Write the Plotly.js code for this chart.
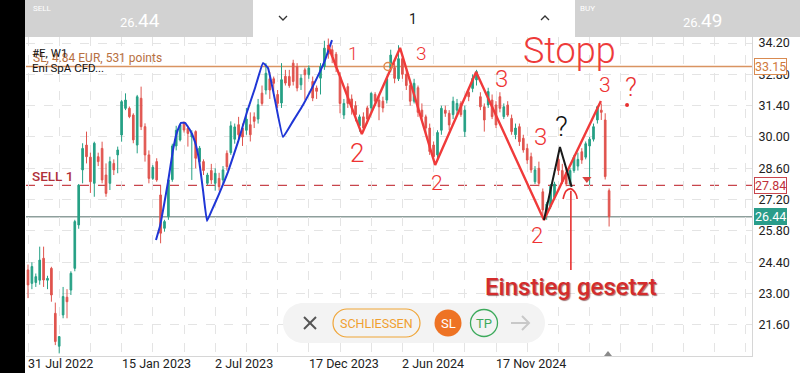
<!DOCTYPE html>
<html><head><meta charset="utf-8">
<script src="https://cdn.plot.ly/plotly-3.0.1.min.js"></script>
<style>html,body{margin:0;padding:0;background:#fff;overflow:hidden}#chart{width:800px;height:373px}</style>
</head><body><div id="chart"></div>
<script>
// ---------- DATA ----------
const startDate = [2022, 6, 31];          // first weekly bar: 31 Jul 2022
const openP = [24.06,23.46,23.50,23.60,24.58,23.60,24.13,22.12,20.65,22.05,
 22.84,23.16,24.13,26.07,28.53,29.64,29.10,27.93,29.12,29.49,
 28.30,27.93,28.82,29.20,30.09,31.28,31.28,30.98,29.64,31.73,
 30.46,29.20,28.15,28.90,27.41,25.92,26.44,28.10,29.60,29.87,
 30.61,30.39,30.00,30.24,28.90,28.90,27.93,28.50,27.93,28.15,
 28.08,29.27,29.30,29.90,30.55,30.40,30.30,30.55,30.90,30.80,
 31.96,32.10,32.60,32.60,31.90,31.52,32.71,32.70,33.30,33.15,
 32.33,33.00,32.78,32.48,32.19,32.63,33.15,34.00,33.90,33.70,
 32.70,30.98,32.25,31.70,31.40,30.50,30.90,31.30,31.30,31.90,
 31.65,31.60,31.65,33.07,33.10,32.60,33.50,32.80,32.30,31.60,
 32.20,31.20,30.90,30.40,29.64,29.20,30.30,31.20,31.06,31.00,
 31.20,31.50,30.24,32.00,32.17,32.55,31.80,31.35,31.43,31.65,
 31.43,31.80,30.91,31.43,30.83,30.10,30.46,29.94,29.49,29.12,
 28.00,28.60,27.55,26.60,26.90,27.30,29.00,28.50,28.40,27.90,
 28.50,28.70,29.34,29.10,29.60,29.90,30.76,31.20,30.76,27.60];
const highP = [24.30,24.40,23.90,25.10,25.10,23.80,24.20,22.60,21.10,23.30,
 23.20,24.00,26.30,27.90,29.72,30.24,29.30,29.79,29.30,29.79,
 28.82,29.12,29.00,29.57,31.65,31.95,31.36,31.06,31.88,32.25,
 30.61,29.40,28.75,29.05,27.85,26.30,28.10,29.70,30.50,30.60,
 30.70,30.50,30.30,30.30,29.60,29.00,28.40,28.80,28.60,28.40,
 28.70,29.40,30.70,30.60,30.90,30.60,31.30,31.10,31.10,31.70,
 32.30,33.30,32.90,32.70,32.10,33.30,33.00,33.00,33.45,33.30,
 32.80,33.10,33.20,32.70,32.30,33.30,34.30,34.40,34.10,33.80,
 32.90,31.70,32.40,31.90,31.60,31.00,31.10,31.40,32.00,32.00,
 31.80,31.80,32.70,33.90,33.30,34.10,33.60,33.00,32.50,32.60,
 32.30,31.50,31.00,30.60,29.80,30.30,31.40,31.40,31.20,31.80,
 31.70,31.60,31.40,32.20,32.80,33.00,32.00,31.50,32.20,31.90,
 31.60,32.00,31.50,31.60,31.00,30.60,30.60,30.10,29.70,29.30,
 28.70,28.90,27.70,27.10,27.90,28.00,29.20,28.80,28.60,28.60,
 29.20,29.30,29.50,29.80,30.00,30.60,31.40,31.50,31.06,27.70];
const lowP = [22.80,23.20,23.30,23.40,23.30,23.20,22.64,20.70,20.33,21.90,
 21.90,22.94,24.00,25.90,27.93,28.82,27.50,27.33,28.70,27.93,
 27.33,27.63,28.30,28.38,29.79,31.20,30.84,29.72,29.27,30.31,
 28.90,27.93,28.08,28.00,25.25,25.77,26.30,28.00,29.40,29.80,
 30.20,29.57,28.08,28.60,28.70,28.30,27.85,27.90,27.60,27.60,
 27.90,28.50,29.20,29.70,29.90,29.60,30.10,29.80,30.40,30.60,
 31.40,31.90,31.70,32.00,31.30,31.30,32.30,32.20,32.30,32.04,
 32.10,31.66,32.60,31.60,31.70,31.90,33.00,33.50,33.30,32.90,
 31.06,30.80,31.30,31.00,30.70,30.24,30.30,30.60,31.10,31.40,
 30.75,31.10,31.50,32.90,32.40,32.50,32.60,32.10,31.40,31.50,
 30.90,30.70,30.10,29.20,28.90,29.00,30.10,30.90,30.30,30.80,
 31.00,30.90,30.00,31.60,32.00,32.30,31.20,30.24,31.30,30.80,
 30.40,31.10,30.80,30.90,30.10,29.90,29.60,29.30,28.80,28.40,
 27.90,27.80,26.44,26.30,26.80,27.20,28.30,27.90,27.80,27.80,
 28.40,28.50,28.80,29.00,27.85,29.80,30.60,30.76,28.10,26.00];
const closeP = [23.39,24.21,23.76,24.50,23.61,23.68,22.94,20.86,21.08,22.87,
 22.64,23.91,26.22,27.85,29.49,29.12,28.00,29.72,28.90,28.08,
 27.48,28.90,28.53,29.42,31.58,31.65,30.91,29.87,31.80,30.46,
 29.20,28.15,28.65,28.08,25.70,26.22,28.08,29.60,30.30,30.54,
 30.31,30.16,30.16,29.05,29.50,28.50,28.30,28.08,28.38,27.78,
 28.53,28.67,30.50,30.45,30.10,30.00,30.80,30.10,30.70,31.44,
 31.50,32.85,32.10,32.40,31.50,32.56,32.41,32.30,32.48,32.19,
 32.63,32.78,33.08,31.74,32.04,33.15,33.97,33.70,33.60,33.10,
 31.50,31.50,31.50,31.35,31.00,30.90,30.40,30.80,31.95,31.60,
 31.35,31.30,32.60,33.66,32.62,33.50,32.80,32.30,31.60,32.40,
 31.10,30.90,30.40,29.35,29.12,30.20,31.28,31.06,30.54,31.60,
 31.50,31.00,31.20,31.80,32.62,32.92,31.35,30.76,32.03,30.91,
 30.54,31.28,31.35,30.98,30.24,30.40,29.79,29.42,28.97,28.53,
 28.53,27.93,26.74,27.00,27.80,27.90,28.50,28.00,27.90,28.50,
 29.10,29.00,28.97,29.70,29.90,30.46,31.35,31.10,28.23,26.44];

const yTicks = [21.6, 23.0, 24.4, 25.8, 27.2, 28.6, 30.0, 31.4, 32.8, 34.2];
const dateTickWeeks = [0, 24, 48, 72, 96, 120];
const dateTickLabels = ['31 Jul 2022', '15 Jan 2023', '2 Jul 2023', '17 Dec 2023', '2 Jun 2024', '17 Nov 2024'];
const stopLoss = 33.15, sellLevel = 27.84, bidPrice = 26.44, askPrice = 26.49;

// hand-drawn annotations (week index, price)
const blueW = [32.82,33.85,34.87,35.90,37.18,38.21,39.23,40.26,41.54,42.82,43.85,44.87,45.90,47.18,48.97,51.28,53.85,56.15,58.21,60.26,61.54,63.33,65.38,67.95,70.51,74.10,76.15,77.95];
const blueP = [25.40,26.02,26.96,27.99,29.42,30.22,30.63,30.63,30.31,29.78,28.97,27.63,26.25,26.74,27.45,28.44,29.78,31.12,32.19,33.31,33.08,31.65,30.00,30.71,31.43,32.64,33.44,34.33];
const redW = [76.9,85.6,95.4,104.4,114.9,132.3,146.9];
const redP = [34.11,30.13,33.98,28.75,32.90,26.29,31.61];
const blackW = [132.3,136.4,139.4];
const blackP = [26.29,29.55,27.77];
const arrowW = [139.2,139.2,null,137.2,138.0,139.2,140.5,140.8];
const arrowP = [24.06,27.60,null,27.23,27.59,27.68,27.45,27.23];
const noteText = ['1','2','3','2','3','3','2','3'];
const noteW = [83.3,84.4,100.8,104.9,121.3,131.5,130.5,148.0];
const noteP = [33.75,29.28,33.75,27.94,32.59,30.00,25.58,32.32];
const noteSize = [18,26,19,21,24,24,22,21];

// ---------- HELPERS ----------
const BASE = Date.UTC(startDate[0], startDate[1], startDate[2]);
function weekToDate(w){ return new Date(BASE + w*7*86400000).toISOString().slice(0,19).replace('T',' '); }
const PL=26, PR=752, PT=37, PB=356;
const px = X => (X-PL)/(PR-PL);
const py = Y => (PB-Y)/(PB-PT);
function rrect(x0,y0,x1,y1,r){
  const k=0.5523*r, P=(X,Y)=>px(X)+','+py(Y);
  return 'M'+P(x0+r,y0)+' L'+P(x1-r,y0)+' C'+P(x1-r+k,y0)+' '+P(x1,y0+r-k)+' '+P(x1,y0+r)+
    ' L'+P(x1,y1-r)+' C'+P(x1,y1-r+k)+' '+P(x1-r+k,y1)+' '+P(x1-r,y1)+
    ' L'+P(x0+r,y1)+' C'+P(x0+r-k,y1)+' '+P(x0,y1-r+k)+' '+P(x0,y1-r)+
    ' L'+P(x0,y0+r)+' C'+P(x0,y0+r-k)+' '+P(x0+r-k,y0)+' '+P(x0+r,y0)+' Z';
}
function poly(pts){ return pts.map((p,i)=>(i?'L':'M')+px(p[0])+','+py(p[1])).join(' '); }
function pann(text,X,Y,o){ return Object.assign({text:text,xref:'paper',yref:'paper',x:px(X),y:py(Y),showarrow:false,xanchor:'center',yanchor:'middle',font:{family:'Roboto',size:12,color:'#111'}},o||{}); }

const dates = openP.map((_,i)=>weekToDate(i));
const F = 'Roboto, sans-serif';

// ---------- TRACES ----------
const traces = [
  {type:'candlestick', x:dates, open:openP, high:highP, low:lowP, close:closeP,
   increasing:{line:{color:'#26a085',width:1}, fillcolor:'#26a085'},
   decreasing:{line:{color:'#e0544e',width:1}, fillcolor:'#e0544e'},
   whiskerwidth:0, hoverinfo:'skip', showlegend:false},
  {type:'scatter', mode:'lines', x:blueW.map(weekToDate), y:blueP, line:{color:'#1f36d6',width:2,shape:'spline',smoothing:0.3}, showlegend:false, hoverinfo:'skip'},
  {type:'scatter', mode:'lines', x:redW.map(weekToDate), y:redP, line:{color:'#f03a3a',width:2.4}, showlegend:false, hoverinfo:'skip'},
  {type:'scatter', mode:'lines', x:blackW.map(weekToDate), y:blackP, line:{color:'#1a1a1a',width:2}, showlegend:false, hoverinfo:'skip'},
  {type:'scatter', mode:'lines', x:arrowW.map(w=>w===null?null:weekToDate(w)), y:arrowP, connectgaps:false, line:{color:'#e83030',width:1.6,shape:'spline'}, showlegend:false, hoverinfo:'skip'},
  {type:'scatter', mode:'markers', x:[weekToDate(92.3)], y:[stopLoss], marker:{symbol:'circle-open',size:8,color:'#e08a4a',line:{width:1.5}}, showlegend:false, hoverinfo:'skip'},
  {type:'scatter', mode:'markers', x:[weekToDate(153.6)], y:[31.43], marker:{symbol:'circle',size:4,color:'#e83030'}, showlegend:false, hoverinfo:'skip'},
  {type:'scatter', mode:'markers', x:[weekToDate(143.3)], y:[28.12], marker:{symbol:'triangle-down',size:8,color:'#d9433f'}, showlegend:false, hoverinfo:'skip'}
];

// ---------- SHAPES ----------
const shapes = [
  {type:'line', xref:'paper', x0:0, x1:1, yref:'y', y0:stopLoss, y1:stopLoss, line:{color:'#d99462',width:1.5}, layer:'between'},
  {type:'line', xref:'paper', x0:0, x1:1, yref:'y', y0:sellLevel, y1:sellLevel, line:{color:'#c8454c',width:1.2,dash:'dash'}, layer:'between'},
  {type:'line', xref:'paper', x0:0, x1:1, yref:'y', y0:bidPrice, y1:bidPrice, line:{color:'#8e9f9c',width:1.5}, layer:'between'},
  // phone edge
  {type:'rect', xref:'paper', yref:'paper', x0:px(0), x1:px(25), y0:py(373), y1:py(0), fillcolor:'#000', line:{width:0}, layer:'above'},
  // top bar
  {type:'rect', xref:'paper', yref:'paper', x0:px(25), x1:px(253), y0:py(37), y1:py(0), fillcolor:'#d2d2d2', line:{width:0}, layer:'above'},
  {type:'rect', xref:'paper', yref:'paper', x0:px(575), x1:px(800), y0:py(37), y1:py(0), fillcolor:'#d2d2d2', line:{width:0}, layer:'above'},
  {type:'path', xref:'paper', yref:'paper', path:poly([[279,16],[283,20],[287,16]]), line:{color:'#333',width:1.3}, layer:'above'},
  {type:'path', xref:'paper', yref:'paper', path:poly([[541,20],[545,16],[549,20]]), line:{color:'#333',width:1.3}, layer:'above'},
  // bottom toolbar
  {type:'path', xref:'paper', yref:'paper', path:rrect(283,303,545,343,20), fillcolor:'#f3f3f3', line:{width:0}, layer:'above'},
  {type:'path', xref:'paper', yref:'paper', path:poly([[304,317],[316,329]]), line:{color:'#555',width:2}, layer:'above'},
  {type:'path', xref:'paper', yref:'paper', path:poly([[316,317],[304,329]]), line:{color:'#555',width:2}, layer:'above'},
  {type:'path', xref:'paper', yref:'paper', path:rrect(333,309,420,337,14), fillcolor:'rgba(0,0,0,0)', line:{color:'#f0a537',width:1.2}, layer:'above'},
  {type:'circle', xref:'paper', yref:'paper', x0:px(434.5), x1:px(461.5), y0:py(336.5), y1:py(309.5), fillcolor:'#ee7324', line:{width:0}, layer:'above'},
  {type:'circle', xref:'paper', yref:'paper', x0:px(470.5), x1:px(497.5), y0:py(336.5), y1:py(309.5), fillcolor:'rgba(0,0,0,0)', line:{color:'#3daa5c',width:1.3}, layer:'above'},
  {type:'path', xref:'paper', yref:'paper', path:poly([[511,323],[529,323]]), line:{color:'#c8c8c8',width:2}, layer:'above'},
  {type:'path', xref:'paper', yref:'paper', path:poly([[522,316],[529,323],[522,330]]), line:{color:'#c8c8c8',width:2}, layer:'above'},
  // current bar marker
  {type:'path', xref:'paper', yref:'paper', path:poly([[604,356],[608,351],[612,356]])+' Z', fillcolor:'#8a8a8a', line:{width:0}, layer:'above'}
];

// ---------- ANNOTATIONS ----------
const annotations = [
  pann('SL, 4.84 EUR, 531 points', 31, 58.5, {xanchor:'left', font:{family:F,size:12,color:'#b8703f'}}),
  pann('#E, W1', 30, 53, {xanchor:'left', font:{family:F,size:11.5,color:'#111'}}),
  pann('Eni SpA CFD...', 30, 67.5, {xanchor:'left', font:{family:F,size:11.5,color:'#111'}}),
  pann('SELL 1', 30, 176, {xanchor:'left', font:{family:F,size:13.5,color:'#b0303a',weight:500}}),
  pann('SELL', 31, 8, {xanchor:'left', font:{family:F,size:8,color:'#fff'}}),
  pann('BUY', 578, 8, {xanchor:'left', font:{family:F,size:8,color:'#fff'}}),
  pann('26.<span style="font-size:19px">'+bidPrice.toFixed(2).split('.')[1]+'</span>', 140, 20, {font:{family:F,size:13,color:'#fff'}}),
  pann('26.<span style="font-size:19px">'+askPrice.toFixed(2).split('.')[1]+'</span>', 702, 20, {font:{family:F,size:13,color:'#fff'}}),
  pann('1', 413, 19, {font:{family:F,size:14,color:'#222'}}),
  pann('SCHLIESSEN', 376.5, 323.5, {font:{family:F,size:12.5,color:'#f0a030'}}),
  pann('SL', 448, 323.5, {font:{family:F,size:13,color:'#fff'}}),
  pann('TP', 484, 323.5, {font:{family:F,size:13,color:'#3daa5c'}}),
  // price boxes on axis
  {text:stopLoss.toFixed(2), xref:'paper', x:1, xanchor:'left', xshift:2, yref:'y', y:stopLoss, yanchor:'middle', showarrow:false, bgcolor:'#fff', bordercolor:'#d98a50', borderwidth:1, borderpad:0, font:{family:F,size:12.5,color:'#d07a3c'}},
  {text:sellLevel.toFixed(2), xref:'paper', x:1, xanchor:'left', xshift:2, yref:'y', y:sellLevel, yanchor:'middle', showarrow:false, bgcolor:'#fff', bordercolor:'#c8454c', borderwidth:1, borderpad:0, font:{family:F,size:12.5,color:'#c0303a'}},
  {text:bidPrice.toFixed(2), xref:'paper', x:1, xanchor:'left', xshift:2, yref:'y', y:bidPrice, yanchor:'middle', showarrow:false, bgcolor:'#2a9d8a', bordercolor:'#2a9d8a', borderwidth:1, borderpad:0, font:{family:F,size:12.5,color:'#fff'}},
  // hand-written text
  {text:'Stopp', xref:'x', yref:'y', x:weekToDate(138.97), y:33.84, showarrow:false, font:{family:F,size:36,color:'#ee3a3a',weight:300}},
  {text:'Einstieg gesetzt', xref:'x', yref:'y', x:weekToDate(139.2), y:23.30, showarrow:false, font:{family:F,size:24,color:'#d42c2c',weight:500,shadow:'1px 1px 1px rgba(90,0,0,0.55)'}},
  {text:'?', xref:'x', yref:'y', x:weekToDate(136.9), y:30.49, showarrow:false, font:{family:F,size:28,color:'#111',weight:300}},
  {text:'?', xref:'x', yref:'y', x:weekToDate(154.6), y:32.23, showarrow:false, font:{family:F,size:26,color:'#e83030',weight:300}}
];
noteText.forEach((t,i)=>annotations.push({text:t, xref:'x', yref:'y', x:weekToDate(noteW[i]), y:noteP[i], showarrow:false, font:{family:F,size:noteSize[i],color:'#ee3333',weight:300}}));
dateTickWeeks.forEach((w,i)=>annotations.push({text:dateTickLabels[i], xref:'x', x:weekToDate(w), xanchor:'left', xshift:-2, yref:'paper', y:py(363.5), yanchor:'middle', showarrow:false, font:{family:F,size:12.5,color:'#222'}}));

// ---------- LAYOUT ----------
const layout = {
  width:800, height:373,
  margin:{l:PL, r:800-PR, t:PT, b:373-PB, pad:0},
  paper_bgcolor:'#fff', plot_bgcolor:'#fff',
  font:{family:F, size:12.5, color:'#222'},
  showlegend:false, boxgap:0.4,
  xaxis:{type:'date', range:[weekToDate(-0.513), weekToDate(185.64)], rangeslider:{visible:false},
         tick0:weekToDate(0), dtick:8*7*86400000, showticklabels:false, ticks:'',
         showgrid:true, gridcolor:'#e4e4e4', griddash:'dash', gridwidth:1,
         showline:true, linecolor:'#d6d6d6', linewidth:1, zeroline:false, fixedrange:true},
  yaxis:{side:'right', range:[20.214, 34.468], tickvals:yTicks, ticktext:yTicks.map(v=>v.toFixed(2)),
         ticks:'', showgrid:true, gridcolor:'#e4e4e4', griddash:'dash', gridwidth:1,
         showline:true, linecolor:'#d6d6d6', linewidth:1, zeroline:false, ticklabelstandoff:3,
         tickfont:{family:F,size:12.5,color:'#222'}, fixedrange:true},
  shapes:shapes, annotations:annotations
};
Plotly.newPlot('chart', traces, layout, {displayModeBar:false, staticPlot:true});
</script></body></html>
